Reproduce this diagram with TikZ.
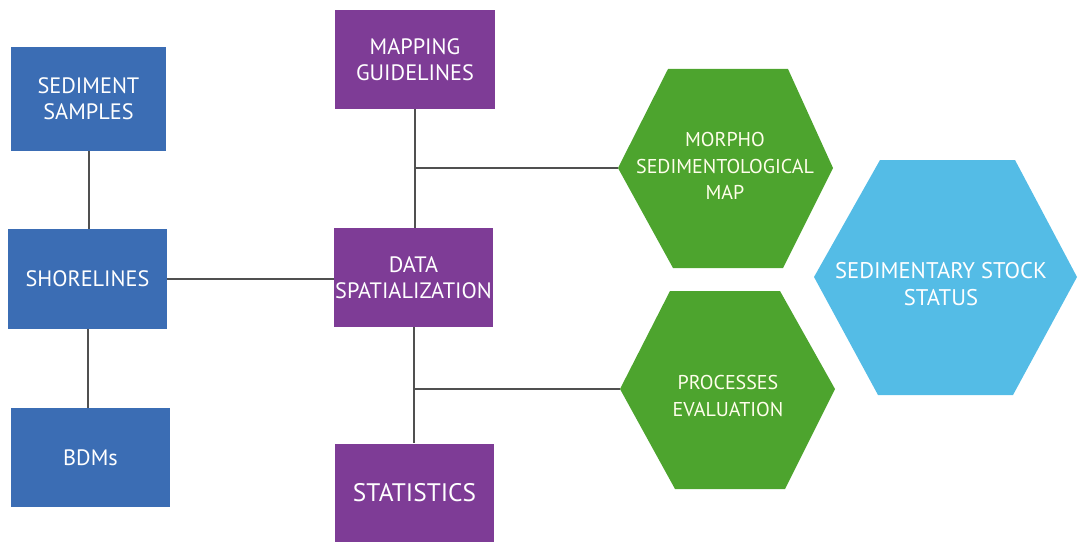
\documentclass[tikz,border=0pt]{standalone}
\usepackage{fontspec}
\setmainfont{PT Sans}
\usetikzlibrary{positioning}

\definecolor{boxblue}{RGB}{59,109,180}
\definecolor{boxpurple}{RGB}{126,60,150}
\definecolor{hexgreen}{RGB}{77,164,46}
\definecolor{hexsky}{RGB}{84,188,230}
\definecolor{linkgray}{RGB}{80,80,80}

\tikzset{
  lbl/.style={text=white, align=center, font=\fontsize{16.7}{19.5}\selectfont},
  hexlbl/.style={lbl, text=white!92!yellow, font=\fontsize{15}{19.8}\selectfont},
  bluebox/.style={lbl, fill=boxblue, inner sep=0pt, minimum width=119pt, minimum height=75pt},
  purplebox/.style={lbl, fill=boxpurple, inner sep=0pt, minimum width=120pt, minimum height=74pt},
  link/.style={draw=linkgray, line width=1.5pt},
}

\begin{document}
\begin{tikzpicture}[x=0.75pt,y=0.75pt,yscale=-1,xscale=1]
\useasboundingbox (0,0) rectangle (1078,542);

%Shape: Hexagon [morpho]
\fill[hexgreen] (618,168) -- (668,69) -- (788,69) -- (833,168) -- (783,268) -- (673,268) -- cycle ;
%Shape: Hexagon [processes]
\fill[hexgreen] (620,389) -- (670,291) -- (780,291) -- (835,389) -- (785,489) -- (675,489) -- cycle ;
%Shape: Hexagon [stock]
\fill[hexsky] (814,277) -- (880,160) -- (1015,160) -- (1077,277) -- (1013,395) -- (878,395) -- cycle ;

% Boxes
\node[bluebox, minimum height=78pt, minimum width=116pt] (samples) at (88.5,99) {SEDIMENT\\SAMPLES};
\node[bluebox] (shore) at (87.5,279) {SHORELINES};
\node[bluebox, minimum height=74pt] (bdms) at (90.5,457.5) {BDMs};
\node[purplebox] (mapping) at (415,59.5) {MAPPING\\GUIDELINES};
\node[purplebox, minimum width=119pt] (data) at (413.5,277.5) {DATA\\SPATIALIZATION};
\node[purplebox, minimum width=119pt, font=\fontsize{19}{22}\selectfont] (stats) at (414.5,493) {STATISTICS};

% Text Node
\node[hexlbl] (morpho) at (725,166) {MORPHO\\SEDIMENTOLOGICAL\\MAP};
% Text Node
\node[hexlbl] (processes) at (728,396) {PROCESSES\\EVALUATION};
% Text Node
\node[lbl, font=\fontsize{17}{20}\selectfont] (stock) at (941,284) {SEDIMENTARY STOCK\\STATUS};

\coordinate (morphoW) at (618,168);
\coordinate (processesW) at (620,389);

%Straight Lines
\draw[link] (samples) -- (samples |- shore.north);
\draw[link] (shore) -- (shore |- bdms.north);
\draw[link] (shore.east) -- (shore.east -| data.west);
\draw[link] (mapping) -- (mapping |- data.north);
\draw[link] (data) -- (data |- stats.north);
\draw[link] (morphoW) -- (morphoW -| mapping.south);
\draw[link] (processesW) -- (processesW -| data.south);

\end{tikzpicture}
\end{document}
